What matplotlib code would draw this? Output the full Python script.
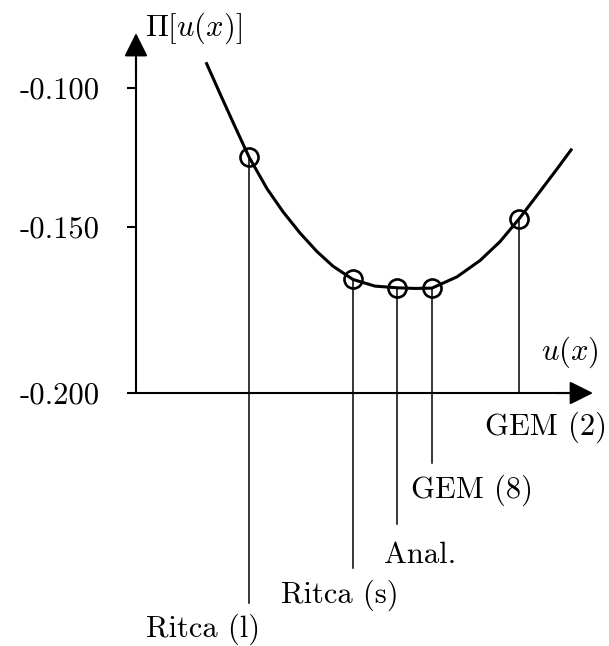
import numpy as np
import matplotlib
matplotlib.use("Agg")
import matplotlib.pyplot as plt
from matplotlib import ticker

plt.rcParams["mathtext.fontset"] = "cm"

# energy functional along the trial-function axis
u_curve = [0.70, 0.84, 0.97, 1.13, 1.31, 1.47, 1.64, 1.81, 1.97, 2.17, 2.39,
           2.61, 2.79, 2.96, 3.21, 3.44, 3.64, 3.83, 4.04, 4.21, 4.36]
pi_curve = [-0.0907, -0.1020, -0.1123, -0.1248, -0.1362, -0.1445, -0.1518,
            -0.1574, -0.1618, -0.1658, -0.1678, -0.1683, -0.1685, -0.1684,
            -0.1650, -0.1601, -0.1544, -0.1471, -0.1372, -0.1291, -0.1218]

methods = ["Ritca (l)", "Ritca (s)", "Anal.", "GEM (8)", "GEM (2)"]
u_method = [1.13, 2.17, 2.61, 2.96, 3.83]
pi_method = [-0.1248, -0.1658, -0.1683, -0.1684, -0.1471]

tick_values = [-0.100, -0.150, -0.200]
tick_labels = ["-0.100", "-0.150", "-0.200"]

# where each leader line stops and where its label sits
leader_end = [-0.2632, -0.2526, -0.2395, -0.2210, -0.200]
label_x = [0.67, 2.04, 2.84, 3.36, 4.10]
label_y = [-0.2735, -0.2633, -0.2512, -0.2316, -0.2127]

UPPER = 0.837  # the band above -0.150 is drawn a bit tighter


def fwd(v):
    v = np.asarray(v, dtype=float)
    return np.where(v < -0.15, v, -0.15 + (v + 0.15) * UPPER)


def inv(w):
    w = np.asarray(w, dtype=float)
    return np.where(w < -0.15, w, -0.15 + (w + 0.15) / UPPER)


fig = plt.figure(figsize=(6.09, 6.46), dpi=100)
ax = fig.add_axes([0, 0, 1, 1])
ax.set_yscale("function", functions=(fwd, inv))
ax.set_xlim(-1.36, 4.73)
ax.set_ylim(-0.2762, -0.0683)

ax.plot(u_curve, pi_curve, color="black", lw=2.2, solid_capstyle="butt",
        solid_joinstyle="round", zorder=3)
ax.plot(u_method, pi_method, "o", ms=13, mfc="none", mec="black", mew=1.9, zorder=4)

for name, u, p, end, lx, ly in zip(methods, u_method, pi_method, leader_end, label_x, label_y):
    ax.plot([u, u], [p, end], color="black", lw=1.1, zorder=2)
    ax.text(lx, ly, name, ha="center", va="baseline", fontsize=22, family="cmr10")

# axes drawn as arrows through the origin
for side in ("top", "right"):
    ax.spines[side].set_visible(False)
ax.spines["left"].set_position(("data", 0))
ax.spines["left"].set_bounds(-0.200, -0.090)
ax.spines["bottom"].set_position(("data", -0.200))
ax.spines["bottom"].set_bounds(0, 4.45)
for side in ("left", "bottom"):
    ax.spines[side].set_linewidth(1.5)

head = dict(arrowstyle="-|>,head_length=0.8,head_width=0.4", mutation_scale=18,
            color="black", lw=1.5, shrinkA=0, shrinkB=0)
ax.annotate("", xy=(0, -0.0802), xytext=(0, -0.095), arrowprops=head)
ax.annotate("", xy=(4.57, -0.200), xytext=(4.2, -0.200), arrowprops=head)

ax.xaxis.set_visible(False)
ax.yaxis.set_major_locator(ticker.FixedLocator(tick_values))
ax.yaxis.set_major_formatter(ticker.FixedFormatter(tick_labels))
ax.yaxis.set_minor_locator(ticker.NullLocator())
ax.tick_params(axis="y", direction="out", length=6.5, width=1.5, pad=19.5,
               labelsize=22)
for lab in ax.get_yticklabels():
    lab.set_family("cmr10")

ax.text(0.09, -0.0784, r"$\Pi[u(x)]$", ha="left", va="center", fontsize=22)
ax.text(4.34, -0.1901, r"$u(x)$", ha="center", va="baseline", fontsize=22)

fig.savefig("out.png", dpi=100)
